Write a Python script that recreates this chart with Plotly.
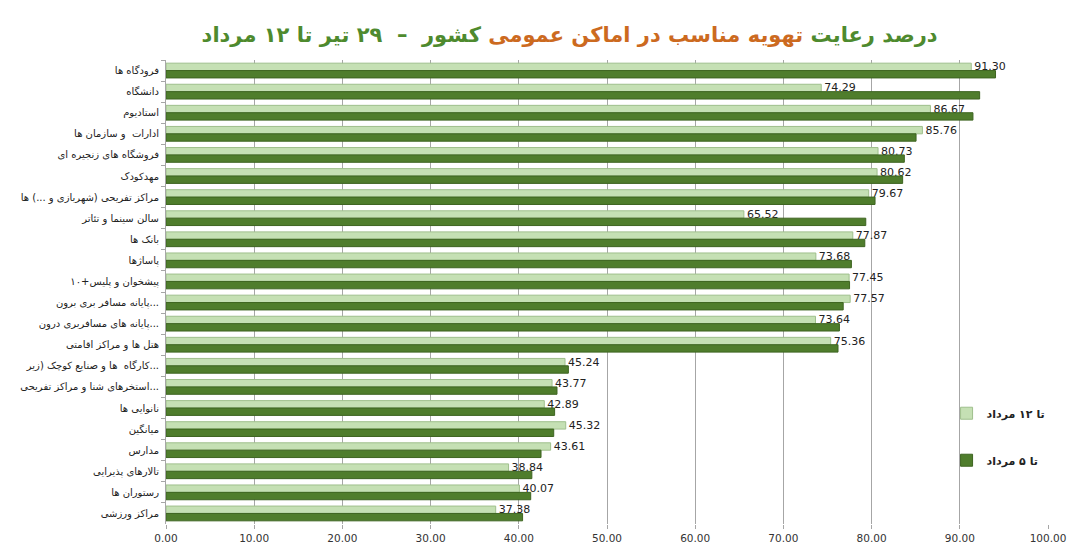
import plotly.graph_objects as go

# categories, top to bottom
categories = [
    "فرودگاه ها",
    "دانشگاه",
    "استادیوم",
    "ادارات  و سازمان ها",
    "فروشگاه های زنجیره ای",
    "مهدکودک",
    "مراکز تفریحی (شهربازی و ...) ها",
    "سالن سینما و تئاتر",
    "بانک ها",
    "پاساژها",
    "پیشخوان و پلیس+۱۰",
    "پایانه مسافر بری برون...",
    "پایانه های مسافربری درون...",
    "هتل ها و مراکز اقامتی",
    "کارگاه  ها و صنایع کوچک (زیر...",
    "استخرهای شنا و مراکز تفریحی...",
    "نانوایی ها",
    "میانگین",
    "مدارس",
    "تالارهای پذیرایی",
    "رستوران ها",
    "مراکز ورزشی",
]

# تا ۱۲ مرداد (labelled values)
until_12 = [91.30, 74.29, 86.67, 85.76, 80.73, 80.62, 79.67, 65.52, 77.87, 73.68, 77.45,
            77.57, 73.64, 75.36, 45.24, 43.77, 42.89, 45.32, 43.61, 38.84, 40.07, 37.38]

# تا ۵ مرداد
until_5 = [94.05, 92.25, 91.49, 85.04, 83.71, 83.52, 80.39, 79.34, 79.23, 77.71, 77.50,
           76.78, 76.35, 76.19, 45.62, 44.33, 44.06, 43.96, 42.52, 41.48, 41.35, 40.43]

x_ticks = [0, 10, 20, 30, 40, 50, 60, 70, 80, 90, 100]

light = "#c5e0b4"
dark = "#4f7d2c"
font_fa = "DejaVu Sans"

fig = go.Figure()
fig.add_trace(go.Bar(
    y=categories, x=until_12, orientation="h", name="<b>تا ۱۲ مرداد</b>",
    legendgroup="a",
    marker=dict(color=light, line=dict(color="#9fbf8c", width=1)),
    text=[f"{v:.2f}" for v in until_12], textposition="outside",
    constraintext="none",
    textfont=dict(size=11, color="#222222", family="DejaVu Sans"),
    cliponaxis=False,
))
fig.add_trace(go.Bar(
    y=categories, x=until_5, orientation="h", name="<b>تا ۵ مرداد</b>",
    legendgroup="b",
    marker=dict(color=dark, line=dict(color="#3d6420", width=1)),
))

title = ("<b><span style='color:#4e8a2e'>درصد رعایت </span>"
         "<span style='color:#cc6a1f'>تهویه مناسب در اماکن عمومی </span>"
         "<span style='color:#4e8a2e'>کشور  –  ۲۹ تیر تا ۱۲ مرداد</span></b>")

fig.update_layout(
    width=1080, height=548,
    margin=dict(l=152, r=40, t=52, b=32),
    paper_bgcolor="white", plot_bgcolor="white",
    barmode="group", bargap=0.3, bargroupgap=0.0,
    title=dict(text=title, x=0.52, xanchor="center", y=0.952, yanchor="middle",
               font=dict(size=21, family=font_fa)),
    xaxis=dict(range=[0, 100], tickvals=x_ticks, tickformat=".2f",
               showgrid=True, gridcolor="#a6a6a6", gridwidth=1,
               zeroline=False, showline=False,
               ticks="outside", ticklen=4, tickcolor="#a6a6a6",
               tickfont=dict(size=10.5, color="#333333", family="DejaVu Sans")),
    yaxis=dict(autorange="reversed", showline=True, linecolor="#a6a6a6",
               ticks="outside", tickson="boundaries", ticklen=4, tickcolor="#a6a6a6",
               ticklabelstandoff=4,
               tickfont=dict(size=10, color="#222222", family=font_fa)),
    legend=dict(x=0.885, y=0.27, xanchor="left", yanchor="top",
                bgcolor="rgba(0,0,0,0)", tracegroupgap=28,
                font=dict(size=11, family=font_fa, color="#222222"),
                itemwidth=30),
    showlegend=True,
)

fig.write_html("out.html")
